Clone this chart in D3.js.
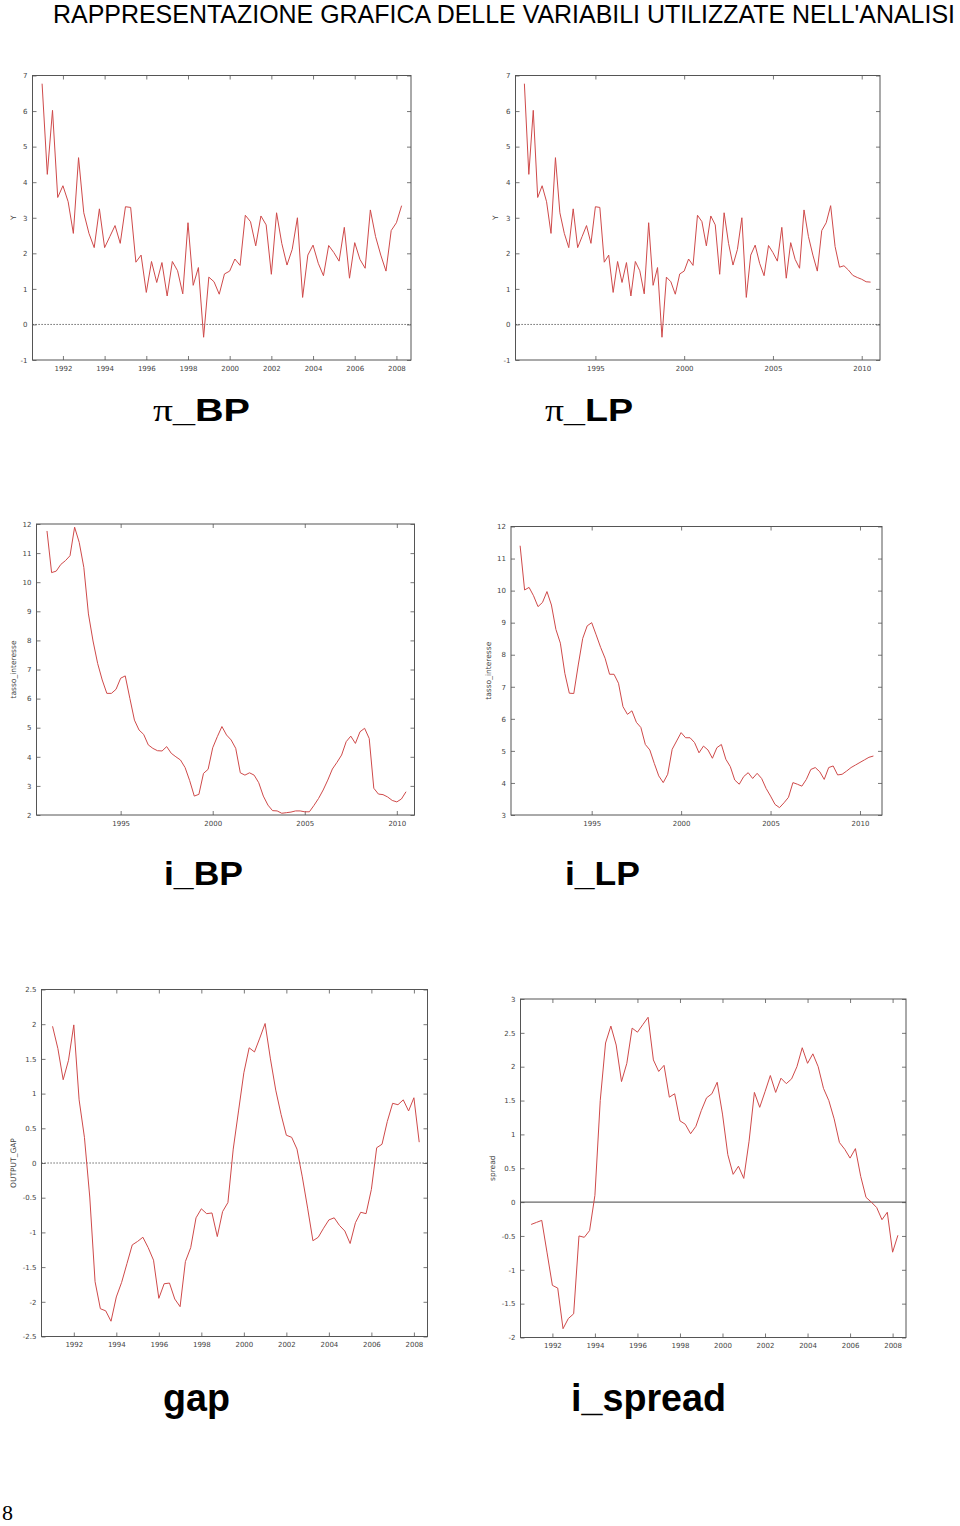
<!DOCTYPE html>
<html>
<head>
<meta charset="utf-8">
<script src="https://cdn.jsdelivr.net/npm/d3@7/dist/d3.min.js"></script>
<style>
  body { margin: 0; background: #fff; }
  svg { display: block; }
</style>
</head>
<body>
<svg id="page" width="960" height="1526"></svg>
<script>
"use strict";

// serie trimestrali, prima osservazione 1991:1
var start_year = 1991;

var pi_bp = [6.77, 4.22, 6.02, 3.57, 3.90, 3.45, 2.56, 4.69, 3.14, 2.56,
  2.16, 3.25, 2.16, 2.47, 2.78, 2.28, 3.31, 3.29, 1.75, 1.95,
  0.90, 1.77, 1.18, 1.74, 0.80, 1.77, 1.51, 0.86, 2.86, 1.10,
  1.60, -0.36, 1.33, 1.20, 0.85, 1.42, 1.50, 1.84, 1.66, 3.07,
  2.89, 2.21, 3.05, 2.80, 1.41, 3.14, 2.28, 1.67, 2.11, 3.00,
  0.76, 1.95, 2.23, 1.72, 1.37, 2.22, 2.02, 1.78, 2.73, 1.30,
  2.30, 1.83, 1.58, 3.22, 2.47, 1.95, 1.50, 2.64, 2.86, 3.34];

var pi_lp = [6.77, 4.22, 6.02, 3.57, 3.90, 3.45, 2.56, 4.69, 3.14, 2.56,
  2.16, 3.25, 2.16, 2.47, 2.78, 2.28, 3.31, 3.29, 1.75, 1.95,
  0.90, 1.77, 1.18, 1.74, 0.80, 1.77, 1.51, 0.86, 2.86, 1.10,
  1.60, -0.36, 1.33, 1.20, 0.85, 1.42, 1.50, 1.84, 1.66, 3.07,
  2.89, 2.21, 3.05, 2.80, 1.41, 3.14, 2.28, 1.67, 2.11, 3.00,
  0.76, 1.95, 2.23, 1.72, 1.37, 2.22, 2.02, 1.78, 2.73, 1.30,
  2.30, 1.83, 1.58, 3.22, 2.47, 1.95, 1.50, 2.64, 2.86, 3.34,
  2.19, 1.61, 1.65, 1.53, 1.38, 1.32, 1.27, 1.20, 1.19];

var i_bp = [11.76, 10.33, 10.38, 10.61, 10.74, 10.91, 11.89, 11.37, 10.51, 8.91,
  7.98, 7.21, 6.64, 6.18, 6.18, 6.32, 6.70, 6.78, 6.01, 5.26,
  4.92, 4.77, 4.41, 4.29, 4.21, 4.20, 4.35, 4.12, 4.00, 3.89,
  3.63, 3.18, 2.65, 2.71, 3.43, 3.57, 4.31, 4.69, 5.04, 4.75,
  4.58, 4.29, 3.45, 3.37, 3.45, 3.37, 3.11, 2.65, 2.34, 2.15,
  2.14, 2.06, 2.08, 2.10, 2.14, 2.14, 2.11, 2.11, 2.33, 2.57,
  2.86, 3.20, 3.58, 3.81, 4.06, 4.52, 4.71, 4.46, 4.86, 4.98,
  4.63, 2.92, 2.72, 2.70, 2.62, 2.50, 2.45, 2.55, 2.80];

var i_lp = [11.40, 10.02, 10.10, 9.84, 9.50, 9.63, 9.97, 9.55, 8.79, 8.36,
  7.42, 6.80, 6.79, 7.68, 8.51, 8.90, 9.00, 8.62, 8.23, 7.89,
  7.39, 7.39, 7.11, 6.38, 6.14, 6.25, 5.89, 5.73, 5.20, 5.03,
  4.61, 4.22, 4.01, 4.27, 5.05, 5.31, 5.57, 5.41, 5.41, 5.26,
  4.94, 5.15, 5.03, 4.77, 5.10, 5.20, 4.74, 4.51, 4.09, 3.96,
  4.20, 4.32, 4.14, 4.30, 4.14, 3.83, 3.59, 3.33, 3.23, 3.38,
  3.55, 4.01, 3.96, 3.90, 4.11, 4.42, 4.48, 4.35, 4.11, 4.48,
  4.53, 4.25, 4.27, 4.37, 4.48, 4.56, 4.64, 4.72, 4.80, 4.84];

var gap = [1.97, 1.65, 1.20, 1.48, 1.99, 0.91, 0.37, -0.49, -1.71, -2.10,
  -2.13, -2.28, -1.93, -1.72, -1.45, -1.18, -1.13, -1.07, -1.22, -1.40,
  -1.95, -1.74, -1.73, -1.96, -2.07, -1.42, -1.22, -0.79, -0.66, -0.73,
  -0.72, -1.06, -0.70, -0.57, 0.20, 0.75, 1.30, 1.66, 1.60, 1.80,
  2.01, 1.50, 1.05, 0.70, 0.40, 0.37, 0.20, -0.20, -0.65, -1.12,
  -1.07, -0.94, -0.82, -0.79, -0.90, -0.98, -1.16, -0.86, -0.71, -0.73,
  -0.38, 0.22, 0.27, 0.60, 0.86, 0.84, 0.91, 0.75, 0.94, 0.30];

var i_spread = [-0.33, -0.30, -0.27, -0.75, -1.23, -1.27, -1.87, -1.72, -1.65, -0.50,
  -0.52, -0.42, 0.10, 1.50, 2.35, 2.60, 2.32, 1.78, 2.05, 2.57,
  2.51, 2.62, 2.73, 2.10, 1.93, 2.02, 1.55, 1.60, 1.20, 1.15,
  1.01, 1.12, 1.35, 1.54, 1.60, 1.77, 1.30, 0.70, 0.41, 0.53,
  0.35, 0.90, 1.62, 1.40, 1.63, 1.87, 1.62, 1.83, 1.75, 1.82,
  2.00, 2.28, 2.05, 2.19, 2.00, 1.68, 1.50, 1.23, 0.88, 0.78,
  0.65, 0.79, 0.38, 0.07, 0.00, -0.08, -0.26, -0.15, -0.74, -0.49];

// etichette degli assi
var years_even = [1992, 1994, 1996, 1998, 2000, 2002, 2004, 2006, 2008];
var years_five = [1995, 2000, 2005, 2010];
var ticks_pi = [-1, 0, 1, 2, 3, 4, 5, 6, 7];
var ticks_i_bp = [2, 3, 4, 5, 6, 7, 8, 9, 10, 11, 12];
var ticks_i_lp = [3, 4, 5, 6, 7, 8, 9, 10, 11, 12];
var ticks_gap = [-2.5, -2, -1.5, -1, -0.5, 0, 0.5, 1, 1.5, 2, 2.5];
var ticks_spread = [-2, -1.5, -1, -0.5, 0, 0.5, 1, 1.5, 2, 2.5, 3];

var main_title = "RAPPRESENTAZIONE GRAFICA DELLE VARIABILI UTILIZZATE NELL'ANALISI";

var panels = [
  {values: pi_bp, box: {left: 32.5, right: 411, top: 75.5, bottom: 360},
   xdom: [1990.54, 2008.7], ydom: [-1, 7], xticks: years_even, yticks: ticks_pi,
   ylabel: "Y", labx: 13, zero: "dotted",
   title: {pre: "π", rest: "_BP", x: 153, y: 421, w: 97, size: 31}},
  {values: pi_lp, box: {left: 515.5, right: 880, top: 75.5, bottom: 360},
   xdom: [1990.5, 2011.03], ydom: [-1, 7], xticks: years_five, yticks: ticks_pi,
   ylabel: "Y", labx: 495, zero: "dotted",
   title: {pre: "π", rest: "_LP", x: 545, y: 421, w: 88, size: 31}},
  {values: i_bp, box: {left: 36.5, right: 414.5, top: 524, bottom: 815},
   xdom: [1990.43, 2010.96], ydom: [2, 12], xticks: years_five, yticks: ticks_i_bp,
   ylabel: "tasso_interesse", labx: 13, zero: null,
   title: {pre: "", rest: "i_BP", x: 164, y: 885, w: 79, size: 34}},
  {values: i_lp, box: {left: 511, right: 882, top: 526.5, bottom: 815},
   xdom: [1990.49, 2011.23], ydom: [3, 12], xticks: years_five, yticks: ticks_i_lp,
   ylabel: "tasso_interesse", labx: 488, zero: null,
   title: {pre: "", rest: "i_LP", x: 565, y: 885, w: 75, size: 34}},
  {values: gap, box: {left: 41.5, right: 427.5, top: 989.5, bottom: 1336.5},
   xdom: [1990.48, 2008.64], ydom: [-2.5, 2.5], xticks: years_even, yticks: ticks_gap,
   ylabel: "OUTPUT_GAP", labx: 13, zero: "dotted",
   title: {pre: "", rest: "gap", x: 163, y: 1411, w: 67, size: 38}},
  {values: i_spread, box: {left: 520.5, right: 906, top: 999, bottom: 1337.5},
   xdom: [1990.5, 2008.63], ydom: [-2, 3], xticks: years_even, yticks: ticks_spread,
   ylabel: "spread", labx: 492, zero: "solid",
   title: {pre: "", rest: "i_spread", x: 571, y: 1411, w: 155, size: 38}}
];

var fmt = function(v) {
  return String(v);
};

var style_axis = function(g) {
  g.select(".domain").remove();
  g.selectAll(".tick line").attr("stroke", "#555").attr("stroke-width", 0.8);
  g.selectAll(".tick text")
    .attr("fill", "#444")
    .style("font-family", "'DejaVu Sans', sans-serif")
    .style("font-size", "7px");
};

var draw_panel = function(svg, p) {
  var b = p.box;
  var g = svg.append("g");

  var x = d3.scaleLinear().domain(p.xdom).range([b.left, b.right]);
  var y = d3.scaleLinear().domain(p.ydom).range([b.bottom, b.top]);

  var data = p.values.map(function(v, i) {
    return {t: start_year + i / 4, v: v};
  });

  // assi con tacche interne su tutti i lati (stile gnuplot)
  g.append("g")
    .attr("transform", "translate(0," + b.bottom + ")")
    .call(d3.axisBottom(x).tickValues(p.xticks).tickFormat(fmt).tickSizeInner(-4).tickSizeOuter(0).tickPadding(6))
    .call(style_axis);
  g.append("g")
    .attr("transform", "translate(0," + b.top + ")")
    .call(d3.axisTop(x).tickValues(p.xticks).tickFormat("").tickSizeInner(-4).tickSizeOuter(0))
    .call(style_axis);
  g.append("g")
    .attr("transform", "translate(" + b.left + ",0)")
    .call(d3.axisLeft(y).tickValues(p.yticks).tickFormat(fmt).tickSizeInner(-4).tickSizeOuter(0).tickPadding(5))
    .call(style_axis);
  g.append("g")
    .attr("transform", "translate(" + b.right + ",0)")
    .call(d3.axisRight(y).tickValues(p.yticks).tickFormat("").tickSizeInner(-4).tickSizeOuter(0))
    .call(style_axis);

  if (p.zero) {
    g.append("line")
      .attr("x1", b.left).attr("x2", b.right)
      .attr("y1", y(0)).attr("y2", y(0))
      .attr("stroke", p.zero == "solid" ? "#444" : "#333")
      .attr("stroke-width", p.zero == "solid" ? 1 : 0.9)
      .attr("stroke-dasharray", p.zero == "solid" ? null : "1.2,1.8");
  }

  var line = d3.line()
    .x(function(d) { return x(d.t); })
    .y(function(d) { return y(d.v); });

  g.append("path")
    .datum(data)
    .attr("fill", "none")
    .attr("stroke", "#cf4a4a")
    .attr("stroke-width", 1)
    .attr("stroke-linejoin", "round")
    .attr("d", line);

  g.append("rect")
    .attr("x", b.left).attr("y", b.top)
    .attr("width", b.right - b.left).attr("height", b.bottom - b.top)
    .attr("fill", "none")
    .attr("stroke", "#555")
    .attr("stroke-width", 1);

  g.append("text")
    .attr("transform", "translate(" + p.labx + "," + (b.top + b.bottom) / 2 + ") rotate(-90)")
    .attr("text-anchor", "middle")
    .attr("dy", "0.35em")
    .attr("fill", "#444")
    .style("font-family", "'DejaVu Sans', sans-serif")
    .style("font-size", "7.5px")
    .text(p.ylabel);

  // titolo sotto il grafico
  var t = svg.append("text")
    .attr("x", p.title.x)
    .attr("y", p.title.y)
    .attr("textLength", p.title.w)
    .attr("lengthAdjust", "spacingAndGlyphs")
    .attr("fill", "#000")
    .style("font-size", p.title.size + "px");
  if (p.title.pre) {
    t.append("tspan")
      .style("font-family", "'Liberation Serif', serif")
      .text(p.title.pre);
  }
  t.append("tspan")
    .style("font-family", "'Liberation Sans', Arial, sans-serif")
    .style("font-weight", "bold")
    .text(p.title.rest);
};

var init_page = function() {
  var svg = d3.select("#page");

  svg.append("rect")
    .attr("width", 960).attr("height", 1526)
    .attr("fill", "#fff");

  svg.append("text")
    .attr("x", 53)
    .attr("y", 22.5)
    .attr("textLength", 902)
    .attr("lengthAdjust", "spacingAndGlyphs")
    .attr("fill", "#000")
    .style("font-family", "'Liberation Sans', Arial, sans-serif")
    .style("font-size", "25px")
    .text(main_title);

  panels.forEach(function(p) {
    draw_panel(svg, p);
  });

  svg.append("text")
    .attr("x", 2)
    .attr("y", 1520)
    .attr("fill", "#000")
    .style("font-family", "'Liberation Serif', serif")
    .style("font-size", "22px")
    .text("8");
};

init_page();
</script>
</body>
</html>
